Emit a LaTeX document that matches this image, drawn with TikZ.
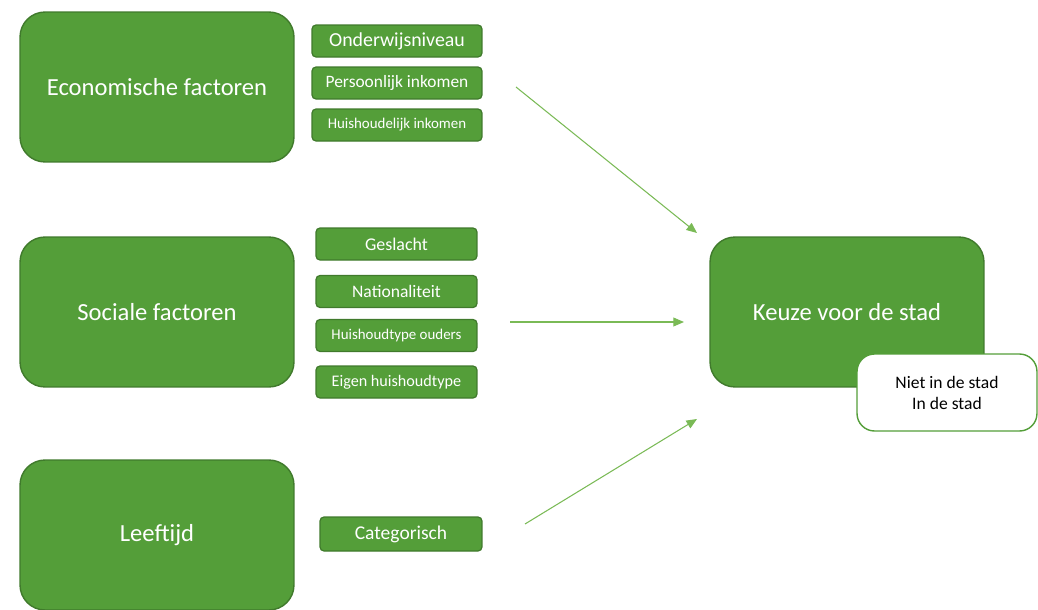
\documentclass[tikz,border=0pt]{standalone}
\usepackage{fontspec}
\setmainfont{Carlito}
\usetikzlibrary{arrows.meta}

\definecolor{groen}{RGB}{84,158,57}
\definecolor{groenrand}{RGB}{64,122,44}
\definecolor{pijl}{RGB}{122,186,86}

\tikzset{factor/.style={draw=groenrand,line width=0.8pt,fill=groen,text=white,rounded corners=0.5cm,minimum width=5.48cm,minimum height=3cm,font=\fontsize{14}{17}\selectfont}}
\tikzset{variabele/.style={draw=groenrand,line width=0.7pt,fill=groen,text=white,rounded corners=0.08cm,minimum height=0.64cm,inner sep=0pt}}
\tikzset{uitkomst/.style={draw=groen,line width=0.8pt,fill=white,text=black,rounded corners=0.35cm,minimum width=3.6cm,minimum height=1.54cm,align=center,font=\fontsize{10}{12}\selectfont}}
\tikzset{pijl/.style={draw=pijl,line width=0.6pt,-{Triangle[length=6pt,width=5pt]}}}

\begin{document}
\begin{tikzpicture}[x=0.02cm,y=-0.02cm]
	\useasboundingbox (0,0) rectangle (1038,609);

	% factoren links
	\node[factor] (econ) at (157,87) {Economische factoren};
	\node[factor] (sociaal) at (157,312) {Sociale factoren};
	\node[factor] (leeftijd) at (157,535) {Leeftijd};

	% variabelen
	\node[variabele,minimum width=3.4cm,font=\fontsize{11.3}{13}\selectfont] (onderwijs) at (397,41) {Onderwijsniveau};
	\node[variabele,minimum width=3.4cm,font=\fontsize{9.9}{12}\selectfont] (pinkomen) at (397,83) {Persoonlijk inkomen};
	\node[variabele,minimum width=3.4cm,font=\fontsize{8.5}{10}\selectfont] (hinkomen) at (397,125) {Huishoudelijk inkomen};

	\node[variabele,minimum width=3.22cm,font=\fontsize{10.2}{12}\selectfont] (geslacht) at (396.5,244) {Geslacht};
	\node[variabele,minimum width=3.22cm,font=\fontsize{10}{12}\selectfont] (nat) at (396.5,291.5) {Nationaliteit};
	\node[variabele,minimum width=3.22cm,font=\fontsize{8.5}{10}\selectfont] (ouders) at (396.5,335.5) {Huishoudtype ouders};
	\node[variabele,minimum width=3.22cm,font=\fontsize{9.2}{11}\selectfont] (eigen) at (396.5,382) {Eigen huishoudtype};

	\node[variabele,minimum width=3.24cm,minimum height=0.68cm,font=\fontsize{11.1}{13}\selectfont] (cat) at (401,534) {Categorisch};

	% uitkomst
	\node[factor] (keuze) at (847,312) {Keuze voor de stad};
	\node[uitkomst] (stad) at (947,392.5) {Niet in de stad\\In de stad};

	% pijlen
	\coordinate (econuit) at (516,87);
	\coordinate (econin) at (697,233);
	\coordinate (sociaaluit) at (510,322);
	\coordinate (sociaalin) at (684,322);
	\coordinate (leeftijduit) at (525,524);
	\coordinate (leeftijdin) at (697,419);
	\draw[pijl] (econuit) -- (econin);
	\draw[pijl] (sociaaluit) -- (sociaalin);
	\draw[pijl] (leeftijduit) -- (leeftijdin);

\end{tikzpicture}
\end{document}
